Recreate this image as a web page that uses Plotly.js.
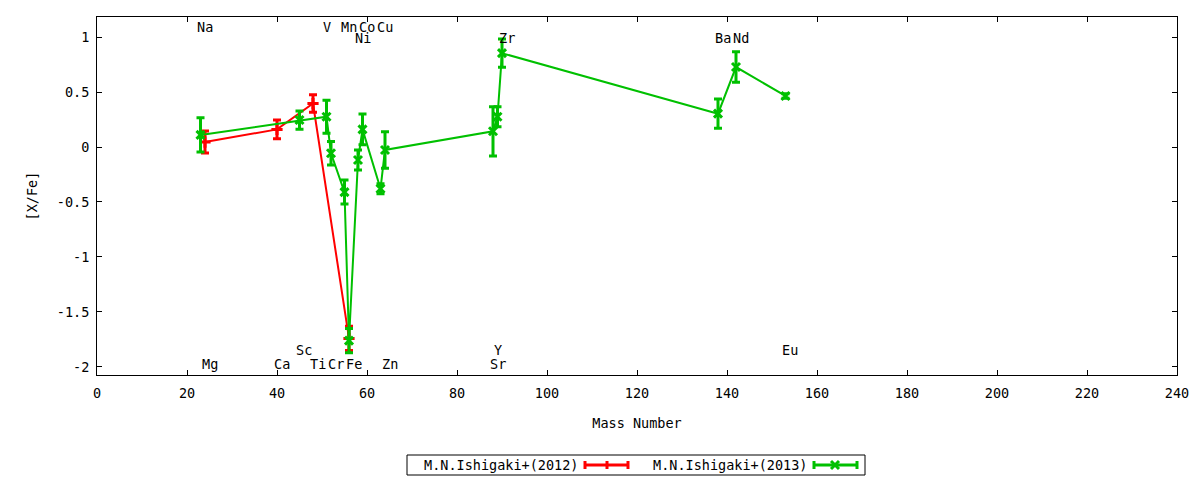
<!DOCTYPE html>
<html>
<head>
<meta charset="utf-8">
<script src="https://cdn.plot.ly/plotly-3.0.1.min.js"></script>
<style>html,body{margin:0;padding:0;background:#fff;}#chart{width:1200px;height:480px;}</style>
</head>
<body>
<div id="chart"></div>
<script>
// ---- data ----
const mass2012 = [24, 40, 48, 56];
const xfe2012  = [0.045, 0.16, 0.395, -1.74];
const err2012  = [0.10, 0.085, 0.08, 0.11];

const mass2013 = [23, 45, 51, 52, 55, 56, 58, 59, 63, 64, 88, 89, 90, 138, 142, 153];
const xfe2013  = [0.11, 0.245, 0.275, -0.057, -0.41, -1.76, -0.118, 0.16, -0.38, -0.027, 0.143, 0.275, 0.853, 0.303, 0.727, 0.464];
const err2013  = [0.155, 0.083, 0.15, 0.106, 0.109, 0.11, 0.09, 0.14, 0.045, 0.166, 0.224, 0.09, 0.129, 0.133, 0.139, 0.02];

const labelNames = ['Na','Mg','Ca','Sc','Ti','V','Cr','Mn','Fe','Co','Ni','Cu','Zn','Sr','Y','Zr','Ba','Nd','Eu'];
const labelMass  = [23, 24, 40, 45, 48, 51, 52, 55, 56, 59, 58, 63, 64, 88, 89, 90, 138, 142, 153];
const labelRow   = ['top','bot','bot','bot2','bot','top','bot','top','bot','top','top2','top','bot','bot','bot2','top2','top2','top2','bot2'];

const xTicks = [0,20,40,60,80,100,120,140,160,180,200,220,240];
const yTicks = [-2,-1.5,-1,-0.5,0,0.5,1];
const yTickText = ['-2','-1.5','-1','-0.5','0','0.5','1'];

const seriesNames = ['M.N.Ishigaki+(2012)','M.N.Ishigaki+(2013)'];
// --------------------------------------

const RED = '#ff0000', GREEN = '#00c000';
const FONT = 'DejaVu Sans Mono, monospace';
const FS = 13.5;

const traces = [
  {
    x: mass2012, y: xfe2012, type: 'scatter', mode: 'lines+markers', name: seriesNames[0],
    line: {color: RED, width: 2},
    marker: {symbol: 'cross-thin', size: 8, color: RED, line: {color: RED, width: 3}},
    error_y: {type: 'data', array: err2012, visible: true, color: RED, thickness: 3, width: 4},
    showlegend: false, hoverinfo: 'skip'
  },
  {
    x: mass2013, y: xfe2013, type: 'scatter', mode: 'lines+markers', name: seriesNames[1],
    line: {color: GREEN, width: 2},
    marker: {symbol: 'x-thin', size: 8, color: GREEN, line: {color: GREEN, width: 3}},
    error_y: {type: 'data', array: err2013, visible: true, color: GREEN, thickness: 3, width: 4},
    showlegend: false, hoverinfo: 'skip'
  }
];

const rowY = {top: 1.09, top2: 0.995, bot: -1.975, bot2: -1.85};
const annotations = labelNames.map((n, i) => ({
  x: labelMass[i] - 1, y: rowY[labelRow[i]], xref: 'x', yref: 'y',
  text: n, showarrow: false, xanchor: 'left', yanchor: 'middle',
  font: {family: FONT, size: FS, color: '#000'}, borderpad: 0
}));

// custom gnuplot-style legend (text then sample), in paper coordinates
const L = 97, R = 1177, T = 17, B = 375;
const xp = px => (px - L) / (R - L);
const yp = py => (B - py) / (B - T);
const legY = 465;
annotations.push({x: xp(423), y: yp(legY), xref: 'paper', yref: 'paper', text: seriesNames[0],
  showarrow: false, xanchor: 'left', yanchor: 'middle', font: {family: FONT, size: FS, color: '#000'}, borderpad: 0});
annotations.push({x: xp(652), y: yp(legY), xref: 'paper', yref: 'paper', text: seriesNames[1],
  showarrow: false, xanchor: 'left', yanchor: 'middle', font: {family: FONT, size: FS, color: '#000'}, borderpad: 0});

function seg(x0, y0, x1, y1, color, w) {
  return {type: 'line', xref: 'paper', yref: 'paper', x0: xp(x0), y0: yp(y0), x1: xp(x1), y1: yp(y1),
    line: {color: color, width: w}};
}
const shapes = [
  {type: 'rect', xref: 'paper', yref: 'paper', x0: xp(407), x1: xp(865), y0: yp(475), y1: yp(455),
   line: {color: '#000', width: 1}, fillcolor: 'rgba(0,0,0,0)'},
  // red sample
  seg(585, legY, 628, legY, RED, 3),
  seg(585, legY - 4, 585, legY + 4, RED, 3),
  seg(628, legY - 4, 628, legY + 4, RED, 3),
  seg(607, legY - 4, 607, legY + 4, RED, 3),
  // green sample
  seg(814, legY, 857, legY, GREEN, 3),
  seg(814, legY - 4, 814, legY + 4, GREEN, 3),
  seg(857, legY - 4, 857, legY + 4, GREEN, 3),
  seg(831, legY - 4, 839, legY + 4, GREEN, 3),
  seg(831, legY + 4, 839, legY - 4, GREEN, 3)
];

const axisCommon = {
  showline: true, linecolor: '#000', linewidth: 1, mirror: 'ticks',
  ticks: 'inside', ticklen: 5, tickwidth: 1, tickcolor: '#000',
  showgrid: false, zeroline: false,
  tickfont: {family: FONT, size: FS, color: '#000'}
};

const layout = {
  width: 1200, height: 480,
  margin: {l: L, r: 1200 - R, t: T, b: 480 - B, pad: 0},
  paper_bgcolor: '#fff', plot_bgcolor: '#fff',
  showlegend: false,
  xaxis: Object.assign({}, axisCommon, {
    range: [0, 240], tickmode: 'array', tickvals: xTicks, ticklabelstandoff: 6,
    title: {text: 'Mass Number', font: {family: FONT, size: FS, color: '#000'}, standoff: 18}
  }),
  yaxis: Object.assign({}, axisCommon, {
    range: [-2.073, 1.182], tickmode: 'array', tickvals: yTicks, ticktext: yTickText, ticklabelstandoff: 4,
    title: {text: '[X/Fe]', font: {family: FONT, size: FS, color: '#000'}, standoff: 16}
  }),
  annotations: annotations,
  shapes: shapes
};

Plotly.newPlot('chart', traces, layout, {staticPlot: true, displayModeBar: false});
</script>
</body>
</html>
